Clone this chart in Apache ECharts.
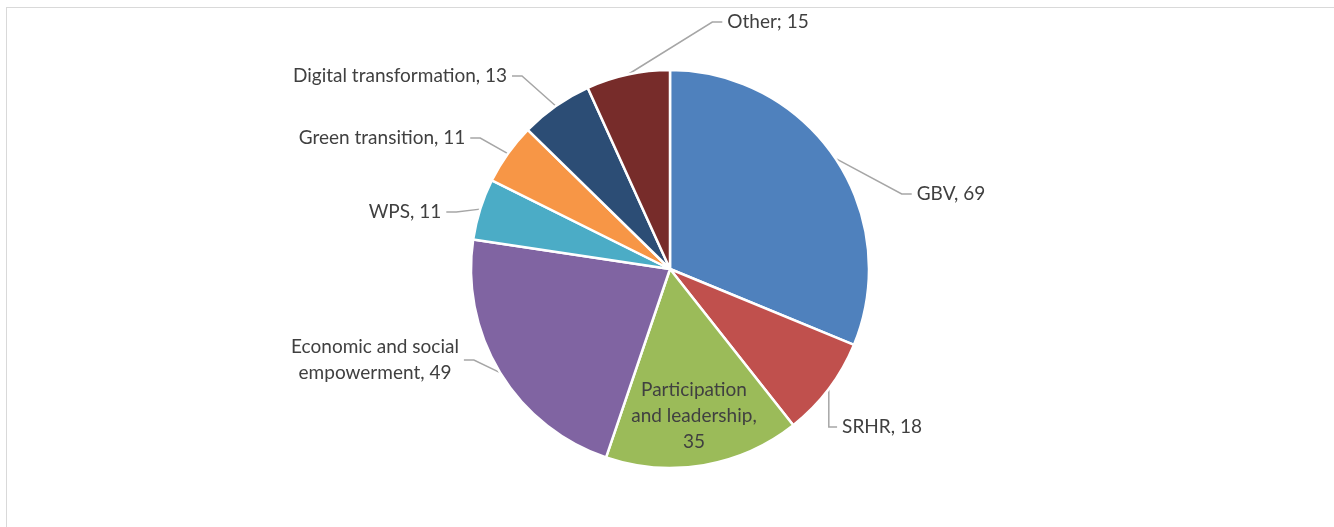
<!DOCTYPE html>
<html>
<head>
<meta charset="utf-8">
<script src="https://cdn.jsdelivr.net/npm/echarts@6/dist/echarts.min.js"></script>
<style>
    html, body { margin: 0; padding: 0; background: #fff; }
    #frame { position: absolute; left: 6px; top: 7px; width: 1400px; height: 600px; border-top: 1px solid #d9d9d9; border-left: 1px solid #d9d9d9; }
    #pie { position: absolute; left: 0; top: 0; width: 1334px; height: 527px; }
</style>
</head>
<body>
<div id="frame"></div>
<div id="pie"></div>
<script>
    // 数据
    let categories = ['GBV', 'SRHR', 'Participation and leadership', 'Economic and social empowerment', 'WPS', 'Green transition', 'Digital transformation', 'Other']
    let values = [69, 18, 35, 49, 11, 11, 13, 15]
    let labelTexts = ['GBV, 69', 'SRHR, 18', 'Participation\nand leadership,\n35', 'Economic and social\nempowerment, 49', 'WPS, 11', 'Green transition, 11', 'Digital transformation, 13', 'Other; 15']
    let colorList = ['#4F81BD', '#C0504D', '#9BBB59', '#8064A2', '#4BACC6', '#F79646', '#2C4D75', '#772C2A']

    // label positions (centre of text block)
    let labelPos = [
        [951, 194],
        [882, 427],
        [694, 416],
        [375, 360],
        [405, 212],
        [382, 138],
        [400, 76],
        [768, 22],
    ]

    let seriesData = []
    categories.map((name, i) => {
        let item = {
            name: name,
            value: values[i],
        }
        if (i === 2) {
            item.label = { position: 'inside', padding: 0 }
            item.labelLine = { show: false }
        }
        seriesData.push(item)
    })

    let option = {
        animation: false,
        color: colorList,
        series: [
            {
                type: 'pie',
                radius: 199,
                center: [670, 269],
                startAngle: 90,
                clockwise: true,
                data: seriesData,
                itemStyle: {
                    borderColor: '#fff',
                    borderWidth: 2.5,
                },
                label: {
                    show: true,
                    formatter: function (p) { return labelTexts[p.dataIndex] },
                    fontFamily: 'Lato, "Open Sans", sans-serif',
                    fontSize: 19,
                    lineHeight: 26,
                    color: '#404040',
                    align: 'center',
                    padding: [0, 5],
                },
                labelLine: {
                    show: true,
                    length: 10,
                    length2: 10,
                    lineStyle: { color: '#a6a6a6', width: 1.5 },
                },
                labelLayout: function (params) {
                    let p = labelPos[params.dataIndex]
                    return {
                        x: p[0],
                        y: p[1],
                        align: 'center',
                        verticalAlign: 'middle',
                    }
                },
                emphasis: { disabled: true },
            },
        ],
    }

    let myChart = echarts.init(document.getElementById('pie'))
    myChart.clear()
    myChart.setOption(option)
</script>
</body>
</html>
